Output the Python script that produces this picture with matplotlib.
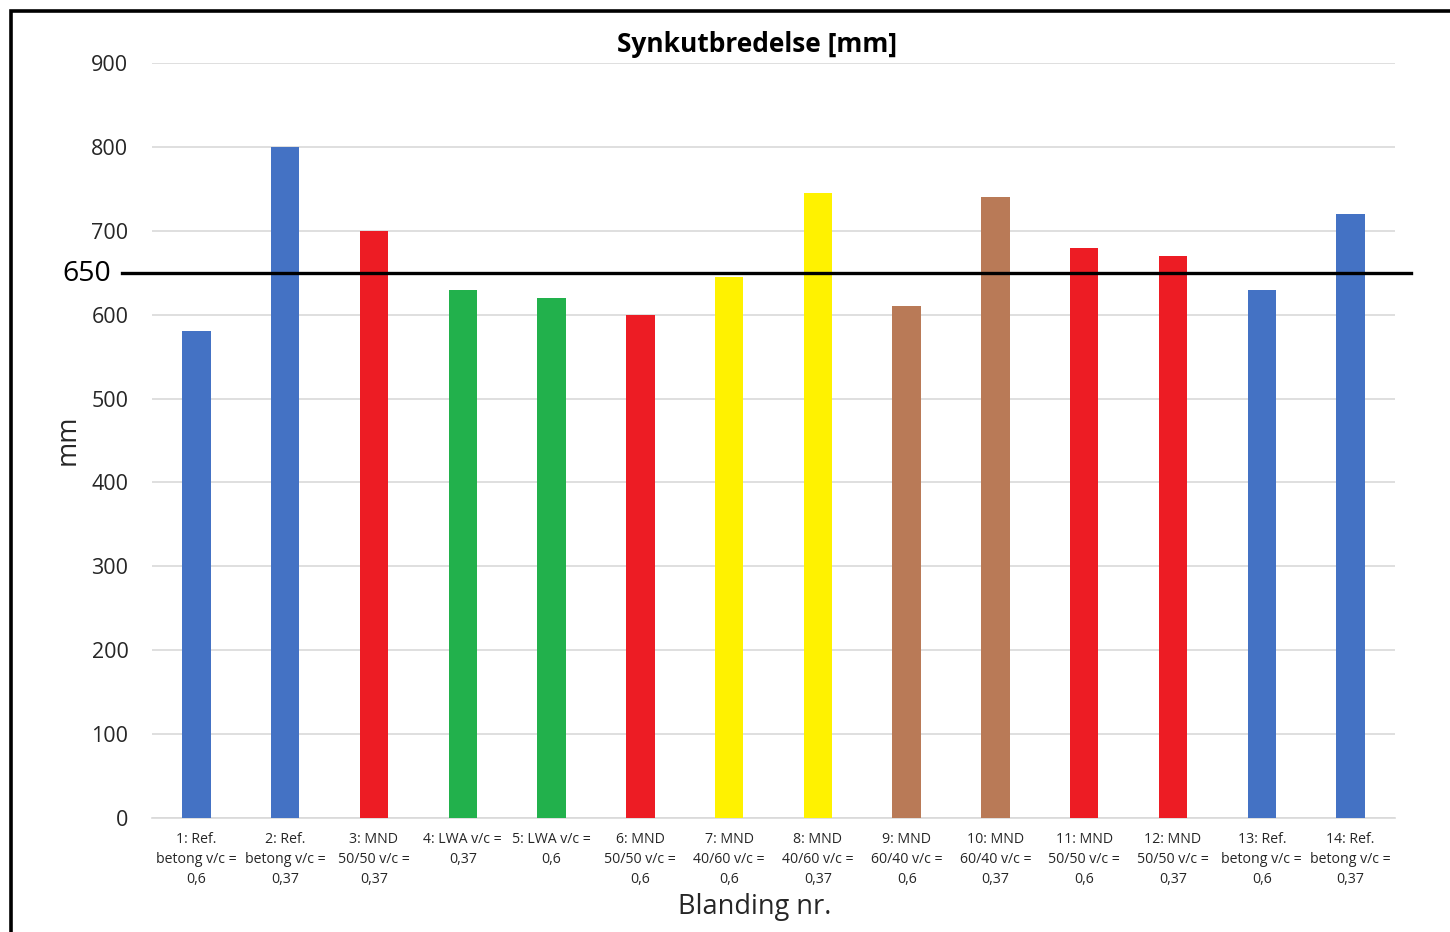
import matplotlib
matplotlib.use("Agg")
import matplotlib.pyplot as plt
from matplotlib.patches import Rectangle
from matplotlib.lines import Line2D

plt.rcParams['font.family'] = ['Open Sans', 'DejaVu Sans']

categories = [
    "1: Ref.\nbetong v/c =\n0,6",
    "2: Ref.\nbetong v/c =\n0,37",
    "3: MND\n50/50 v/c =\n0,37",
    "4: LWA v/c =\n0,37",
    "5: LWA v/c =\n0,6",
    "6: MND\n50/50 v/c =\n0,6",
    "7: MND\n40/60 v/c =\n0,6",
    "8: MND\n40/60 v/c =\n0,37",
    "9: MND\n60/40 v/c =\n0,6",
    "10: MND\n60/40 v/c =\n0,37",
    "11: MND\n50/50 v/c =\n0,6",
    "12: MND\n50/50 v/c =\n0,37",
    "13: Ref.\nbetong v/c =\n0,6",
    "14: Ref.\nbetong v/c =\n0,37",
]
spread_mm = [580, 800, 700, 630, 620, 600, 645, 745, 610, 740, 680, 670, 630, 720]
groups = ["ref", "ref", "mnd", "lwa", "lwa", "mnd", "mnd4060", "mnd4060",
          "mnd6040", "mnd6040", "mnd", "mnd", "ref", "ref"]
group_colors = {
    "ref": "#4472C4",
    "mnd": "#ED1C24",
    "lwa": "#22B14C",
    "mnd4060": "#FFF200",
    "mnd6040": "#B97A57",
}
limit_mm = 650
y_ticks = [0, 100, 200, 300, 400, 500, 600, 700, 800, 900]

W, H = 1450, 932
fig = plt.figure(figsize=(W / 100, H / 100), dpi=100)
ax = fig.add_axes([152 / W, 1 - 818 / H, (1395 - 152) / W, (818 - 63) / H])

x = range(len(categories))
ax.bar(x, spread_mm, width=0.32,
       color=[group_colors[g] for g in groups], zorder=3)

ax.set_xlim(-0.5, len(categories) - 0.5)
ax.set_ylim(0, 900)
ax.set_yticks(y_ticks)
ax.set_yticklabels([str(v) for v in y_ticks], fontsize=15.5, color="#262626")
ax.set_xticks(list(x))
ax.set_xticklabels(categories, fontsize=10.2, color="#262626", linespacing=1.45)
ax.tick_params(axis="both", length=0)
ax.tick_params(axis="y", pad=17)
ax.tick_params(axis="x", pad=10)

ax.grid(axis="y", color="#D9D9D9", linewidth=1.2, zorder=0)
for side in ("top", "right", "left"):
    ax.spines[side].set_visible(False)
ax.spines["bottom"].set_color("#D9D9D9")
ax.spines["bottom"].set_linewidth(1.2)

# requirement line at 650 mm, extending slightly past the plot area
trans = ax.get_yaxis_transform()
ax.add_line(Line2D([-0.024, 1.013], [limit_mm, limit_mm], transform=trans,
                   color="black", linewidth=2.4, clip_on=False, zorder=5))
fig.text(111 / W, 1 - 274 / H, str(limit_mm), ha="right", va="center",
         fontsize=20.5, color="black")

fig.text(757 / W, 1 - 44 / H, "Synkutbredelse [mm]", ha="center",
         va="center", fontsize=19, fontweight="bold", color="black")
fig.text(755 / W, 1 - 907 / H, "Blanding nr.", ha="center", va="center",
         fontsize=19.5, color="#262626")
fig.text(68 / W, 1 - 440 / H, "mm", ha="center", va="center", rotation=90,
         fontsize=19.5, color="#262626")

# outer frame (top and left edges visible)
fig.patches.append(Rectangle((11 / W, -0.2), 1.5, 1.2 - 11 / H,
                             transform=fig.transFigure, fill=False,
                             edgecolor="black", linewidth=2.6))

fig.savefig("out.png", dpi=100)
